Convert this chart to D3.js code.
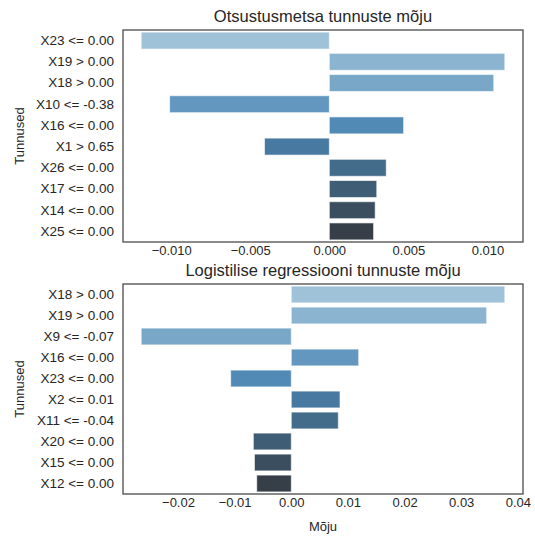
<!DOCTYPE html>
<html>
<head>
<meta charset="utf-8">
<script src="https://cdn.jsdelivr.net/npm/d3@7"></script>
<style>
  body { margin: 0; background: #fff; }
  svg text { font-family: "Liberation Sans", Arial, sans-serif; fill: #262626; }
</style>
</head>
<body>
<div id="grafik"></div>
<script>
// Otsustusmetsa tunnused ja mõjud
const puuTunnused = ["X23 <= 0.00", "X19 > 0.00", "X18 > 0.00", "X10 <= -0.38", "X16 <= 0.00",
    "X1 > 0.65", "X26 <= 0.00", "X17 <= 0.00", "X14 <= 0.00", "X25 <= 0.00"];
const puuMoju = [-0.0119, 0.0111, 0.0104, -0.0101, 0.0047, -0.0041, 0.0036, 0.0030, 0.0029, 0.0028];
const puuTicks = [-0.010, -0.005, 0.000, 0.005, 0.010];

// Logistilise regressiooni tunnused ja mõjud
const logTunnused = ["X18 > 0.00", "X19 > 0.00", "X9 <= -0.07", "X16 <= 0.00", "X23 <= 0.00",
    "X2 <= 0.01", "X11 <= -0.04", "X20 <= 0.00", "X15 <= 0.00", "X12 <= 0.00"];
const logMoju = [0.0377, 0.0345, -0.0265, 0.0119, -0.0107, 0.0086, 0.0083, -0.0067, -0.0065, -0.0061];
const logTicks = [-0.02, -0.01, 0.00, 0.01, 0.02, 0.03, 0.04];

// Blues_d värvid
const varvid = ["#9fc2d8", "#8bb4d0", "#78a7c8", "#6497bf", "#528ab6", "#4779a1", "#436b8a", "#3f5d74", "#3a4e5f", "#363f47"];

const svg = d3.select("#grafik")
    .append("svg")
    .attr("width", 535)
    .attr("height", 539);

function joonista(y0, y1, tunnused, moju, ticks, pealkiri, pealkirjaY, formaat, xSilt) {
    const left = 123, right = 523;
    const lo = d3.min(moju), hi = d3.max(moju);
    const m = (hi - lo) * 0.05;

    const x = d3.scaleLinear().domain([lo - m, hi + m]).range([left, right]);
    const y = d3.scaleBand().domain(tunnused).range([y0, y1])
        .paddingInner(0.2).paddingOuter(0.1);

    const g = svg.append("g");

    g.selectAll("rect.bar")
        .data(moju)
        .enter()
        .append("rect")
        .attr("class", "bar")
        .attr("x", d => x(Math.min(0, d)))
        .attr("y", (d, i) => y(tunnused[i]))
        .attr("width", d => Math.abs(x(d) - x(0)))
        .attr("height", y.bandwidth())
        .attr("fill", (d, i) => varvid[i])
        .attr("stroke", "rgba(255,255,255,0.6)")
        .attr("stroke-width", 1);

    // raam
    g.append("rect")
        .attr("x", left)
        .attr("y", y0)
        .attr("width", right - left)
        .attr("height", y1 - y0)
        .attr("fill", "none")
        .attr("stroke", "#444")
        .attr("stroke-width", 1.25);

    // x telg
    const xAxis = g.append("g")
        .attr("transform", `translate(0,${y1})`)
        .call(d3.axisBottom(x).tickValues(ticks).tickFormat(formaat).tickSize(0).tickPadding(4));
    xAxis.select(".domain").remove();
    xAxis.selectAll("text").attr("font-size", 13).style("fill", "#262626")
        .text(d => formaat(d).replace("-", "\u2212"));

    // y telg
    const yAxis = g.append("g")
        .attr("transform", `translate(${left},0)`)
        .call(d3.axisLeft(y).tickSize(0).tickPadding(9));
    yAxis.select(".domain").remove();
    yAxis.selectAll("text").attr("font-size", 13.5).style("fill", "#262626");

    g.append("text")
        .attr("x", (left + right) / 2)
        .attr("y", pealkirjaY)
        .attr("text-anchor", "middle")
        .attr("font-size", 16.5)
        .text(pealkiri);

    g.append("text")
        .attr("transform", `translate(24,${(y0 + y1) / 2}) rotate(-90)`)
        .attr("text-anchor", "middle")
        .attr("font-size", 13)
        .text("Tunnused");

    if (xSilt) {
        g.append("text")
            .attr("x", (left + right) / 2)
            .attr("y", y1 + 37)
            .attr("text-anchor", "middle")
            .attr("font-size", 13)
            .text(xSilt);
    }
}

joonista(30, 242, puuTunnused, puuMoju, puuTicks, "Otsustusmetsa tunnuste mõju", 22, d3.format(".3f"), null);
joonista(284, 494, logTunnused, logMoju, logTicks, "Logistilise regressiooni tunnuste mõju", 275.5, d3.format(".2f"), "Mõju");
</script>
</body>
</html>
